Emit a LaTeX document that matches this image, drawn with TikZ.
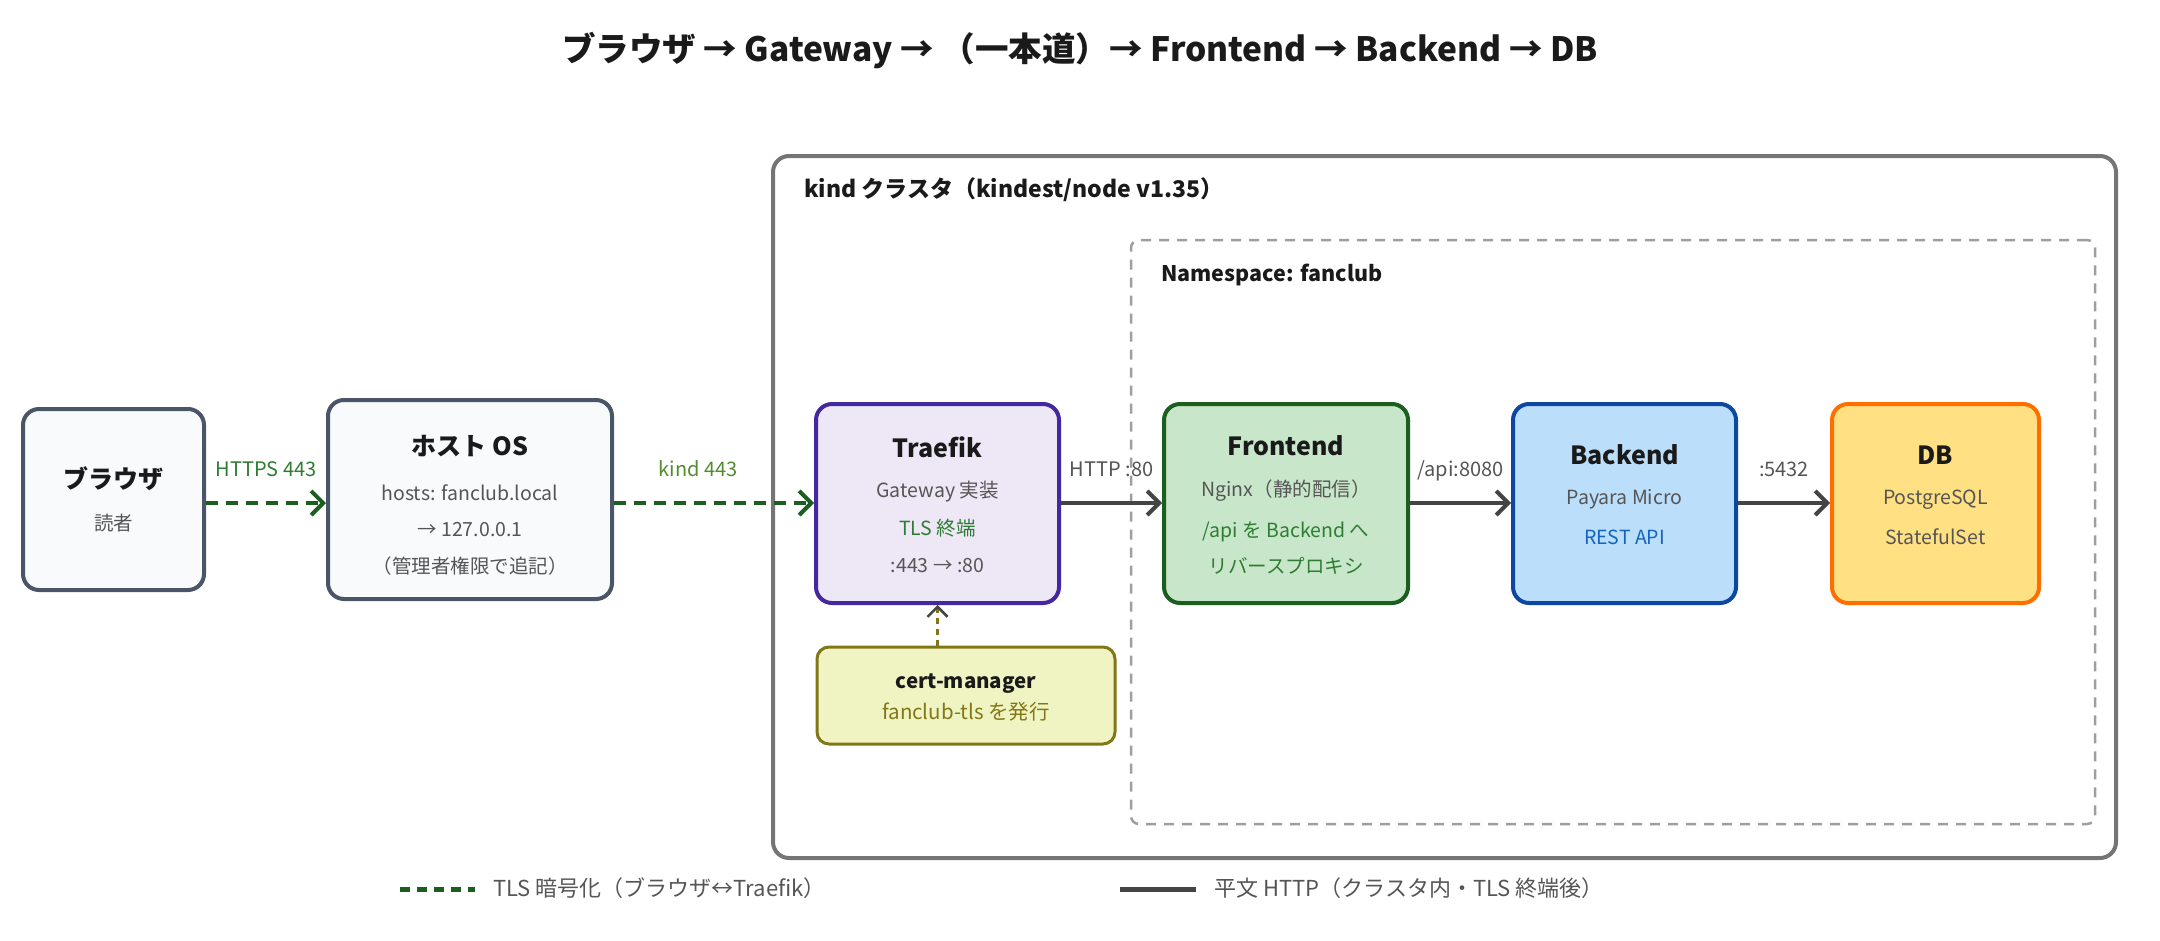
\documentclass[tikz,border=0pt]{standalone}
\usepackage{fontspec}
\setmainfont{Noto Sans CJK JP}
\usetikzlibrary{arrows.meta}
\definecolor{slatefill}{HTML}{F8FAFC}
\definecolor{slatedraw}{HTML}{4A5568}
\definecolor{trfill}{HTML}{EDE7F6}
\definecolor{trdraw}{HTML}{4527A0}
\definecolor{fefill}{HTML}{C8E6C9}
\definecolor{fedraw}{HTML}{1B5E20}
\definecolor{befill}{HTML}{BBDEFB}
\definecolor{bedraw}{HTML}{0D47A1}
\definecolor{dbfill}{HTML}{FFE082}
\definecolor{dbdraw}{HTML}{FF6F00}
\definecolor{cmfill}{HTML}{F0F4C3}
\definecolor{cmdraw}{HTML}{827717}
\definecolor{clusterc}{HTML}{757575}
\definecolor{nsc}{HTML}{9E9E9E}
\definecolor{arrowc}{HTML}{444444}
\definecolor{tlsc}{HTML}{1B5E20}
\definecolor{subc}{HTML}{555555}
\definecolor{greentxt}{HTML}{2E7D32}
\definecolor{bluetxt}{HTML}{1565C0}
\definecolor{olivetxt}{HTML}{827717}
\definecolor{kindtxt}{HTML}{558B2F}
\definecolor{titlec}{HTML}{1A1A1A}
\tikzset{
  box/.style={draw, rounded corners=16pt, line width=4pt, inner sep=0pt},
  ttl/.style={font=\bfseries\fontsize{25}{29}\selectfont, text=titlec, inner sep=0pt, text height=22pt, text depth=3pt},
  subt/.style={font=\fontsize{19.5}{23}\selectfont, text=subc, inner sep=0pt, text height=17pt, text depth=3pt},
  elab/.style={font=\fontsize{20}{24}\selectfont, inner sep=0pt, text height=17pt, text depth=3pt},
  tlsarrow/.style={draw=tlsc, line width=4pt, dash pattern=on 12pt off 8pt, -{Straight Barb[length=12pt,width=24pt]}},
  httparrow/.style={draw=arrowc, line width=4pt, -{Straight Barb[length=12pt,width=24pt]}},
}
\begin{document}
\begin{tikzpicture}[x=1pt,y=-1pt]
\useasboundingbox (0,0) rectangle (2160,940);
% title
\node[font=\bfseries\fontsize{33.5}{40}\selectfont, text=titlec, inner sep=0pt] (title) at (1080,51) {ブラウザ → Gateway → （一本道）→ Frontend → Backend → DB};
% cluster
\node[draw=clusterc, line width=4pt, rounded corners=16pt, minimum width=1343pt, minimum height=702pt, inner sep=0pt] (kind) at (1444.5,507) {};
\node[anchor=west, font=\bfseries\fontsize{23}{27}\selectfont, text=titlec, inner sep=0pt] (kindlbl) at (804,190) {kind クラスタ（kindest/node v1.35）};
% namespace
\node[draw=nsc, line width=2.5pt, dash pattern=on 10pt off 8pt, rounded corners=8pt, minimum width=964pt, minimum height=584pt, inner sep=0pt] (ns) at (1613,532) {};
\node[anchor=west, font=\bfseries\fontsize{21.5}{25}\selectfont, text=titlec, inner sep=0pt] (nslbl) at (1161,275) {Namespace: fanclub};
% browser
\node[box, draw=slatedraw, fill=slatefill, minimum width=181pt, minimum height=181pt] (browser) at (113.5,499.5) {};
\node[ttl] (browser-t) at (113.5,479) {ブラウザ};
\node[subt] (browser-1) at (113.5,523) {読者};
% host
\node[box, draw=slatedraw, fill=slatefill, minimum width=284pt, minimum height=199pt] (host) at (470,499.5) {};
\node[ttl] (host-t) at (470,446) {ホスト OS};
\node[subt] (host-1) at (470,493) {hosts: fanclub.local};
\node[subt] (host-2) at (470,529) {→ 127.0.0.1};
\node[subt] (host-3) at (470,566) {（管理者権限で追記）};
% traefik
\node[box, draw=trdraw, fill=trfill, minimum width=243pt, minimum height=199pt] (traefik) at (937.5,503.5) {};
\node[ttl] (traefik-t) at (937.5,448) {Traefik};
\node[subt] (traefik-1) at (937.5,490) {Gateway 実装};
\node[subt, text=greentxt] (traefik-2) at (937.5,528) {TLS 終端};
\node[subt] (traefik-3) at (937.5,565) {:443 → :80};
% cert-manager
\node[box, draw=cmdraw, fill=cmfill, line width=3pt, rounded corners=12pt, minimum width=298pt, minimum height=97pt] (cert) at (966,695.5) {};
\node[ttl, font=\bfseries\fontsize{20.5}{24}\selectfont, text height=18pt, text depth=3pt] (cert-t) at (966,681) {cert-manager};
\node[subt, font=\fontsize{20.5}{24}\selectfont, text=olivetxt] (cert-1) at (966,712) {fanclub-tls を発行};
% frontend
\node[box, draw=fedraw, fill=fefill, minimum width=244pt, minimum height=199pt] (fe) at (1286,503.5) {};
\node[ttl] (fe-t) at (1286,446) {Frontend};
\node[subt] (fe-1) at (1286,489) {Nginx（静的配信）};
\node[subt, text=greentxt] (fe-2) at (1286,530) {/api を Backend へ};
\node[subt, text=greentxt] (fe-3) at (1286,566) {リバースプロキシ};
% backend
\node[box, draw=bedraw, fill=befill, minimum width=223pt, minimum height=199pt] (be) at (1624.5,503.5) {};
\node[ttl] (be-t) at (1624.5,455) {Backend};
\node[subt] (be-1) at (1624.5,497) {Payara Micro};
\node[subt, text=bluetxt] (be-2) at (1624.5,537) {REST API};
% db
\node[box, draw=dbdraw, fill=dbfill, minimum width=207pt, minimum height=199pt] (db) at (1935.5,503.5) {};
\node[ttl] (db-t) at (1935.5,455) {DB};
\node[subt] (db-1) at (1935.5,497) {PostgreSQL};
\node[subt] (db-2) at (1935.5,537) {StatefulSet};
% connectors
\draw[tlsarrow] (browser.east |- 0,503) -- node[elab, text=greentxt, above=22pt] (l1) {HTTPS 443} (host.west |- 0,503);
\draw[tlsarrow] (host.east |- 0,503) -- node[elab, text=kindtxt, above=22pt, pos=0.42] (l2) {kind 443} (traefik.west |- 0,503);
\draw[httparrow] (traefik.east |- 0,503) -- node[elab, text=subc, above=22pt] (l3) {HTTP :80} (fe.west |- 0,503);
\draw[httparrow] (fe.east |- 0,503) -- node[elab, text=subc, above=22pt] (l4) {/api:8080} (be.west |- 0,503);
\draw[httparrow] (be.east |- 0,503) -- node[elab, text=subc, above=22pt] (l5) {:5432} (db.west |- 0,503);
\draw[draw=cmdraw, line width=2.5pt, dash pattern=on 6pt off 5pt, -{Straight Barb[length=10pt,width=20pt,color=arrowc]}] (traefik.south |- cert.north) -- (traefik.south);
% legend
\coordinate (lg1a) at (400,889);
\coordinate (lg1b) at (475,889);
\draw[draw=tlsc, line width=5pt, dash pattern=on 10pt off 7pt] (lg1a) -- (lg1b);
\node[anchor=west, elab, font=\fontsize{22}{26}\selectfont, text=subc] (lg1t) at (493,889) {TLS 暗号化（ブラウザ↔Traefik）};
\coordinate (lg2a) at (1120,889);
\coordinate (lg2b) at (1196,889);
\draw[draw=arrowc, line width=5pt] (lg2a) -- (lg2b);
\node[anchor=west, elab, font=\fontsize{22}{26}\selectfont, text=subc] (lg2t) at (1214,889) {平文 HTTP（クラスタ内・TLS 終端後）};
\end{tikzpicture}
\end{document}
